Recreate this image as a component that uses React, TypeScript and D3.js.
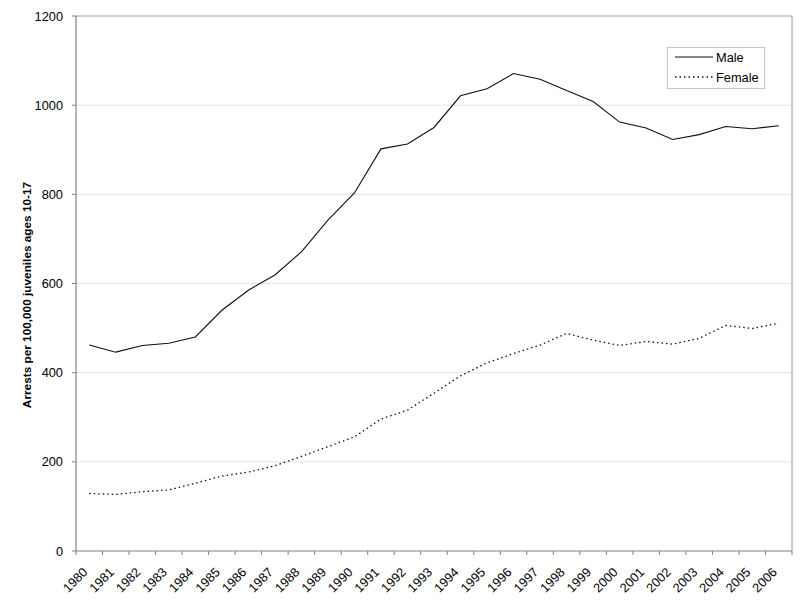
import React from "react";
import * as d3 from "d3";

const years: string[] = [
  "1980","1981","1982","1983","1984","1985","1986","1987","1988","1989",
  "1990","1991","1992","1993","1994","1995","1996","1997","1998","1999",
  "2000","2001","2002","2003","2004","2005","2006",
];
const maleValues: number[] = [
  462, 446, 461, 466, 480, 540, 585, 619, 671, 742,
  803, 902, 913, 950, 1021, 1037, 1071, 1058, 1033, 1008,
  962, 949, 923, 934, 952, 947, 954,
];
const femaleValues: number[] = [
  129, 127, 133, 137, 152, 168, 177, 191, 212, 234,
  256, 296, 316, 354, 393, 422, 443, 462, 488, 473,
  461, 470, 464, 477, 506, 499, 511,
];
const yTicks: number[] = [0, 200, 400, 600, 800, 1000, 1200];
const seriesNames: string[] = ["Male", "Female"];
const yTitle = "Arrests per 100,000 juveniles ages 10-17";

const W = 800;
const H = 610;
const left = 76;
const right = 792;
const top = 16;
const bottom = 551;
const font = "Liberation Sans, Arial, sans-serif";

export default function App() {
  const x = d3.scaleBand<string>().domain(years).range([left, right]).padding(0);
  const y = d3.scaleLinear().domain([0, 1200]).range([bottom, top]);
  const cx = (yr: string) => (x(yr) as number) + x.bandwidth() / 2;

  const line = d3
    .line<number>()
    .x((_, i) => cx(years[i]))
    .y((d) => y(d));

  const tickXs = years.map((yr) => x(yr) as number).concat([right]);

  return (
    <svg
      width={W}
      height={H}
      style={{ position: "absolute", left: 0, top: 0, background: "#fff" }}
      fontFamily={font}
    >
      {/* gridlines */}
      {yTicks.filter((t) => t > 0).map((t) => (
        <line key={"g" + t} x1={left} x2={right} y1={y(t)} y2={y(t)} stroke={t === 1200 ? "#9a9a9a" : "#e4e4e4"} strokeWidth={1} />
      ))}
      {/* right border */}
      <line x1={right} x2={right} y1={top} y2={bottom} stroke="#9a9a9a" strokeWidth={1} />
      {/* y axis */}
      <line x1={left} x2={left} y1={top} y2={bottom} stroke="#808080" strokeWidth={1.2} />
      {yTicks.map((t) => (
        <g key={"yt" + t}>
          <line x1={left - 4} x2={left} y1={y(t)} y2={y(t)} stroke="#808080" />
          <text x={63} y={y(t)} dy="0.36em" textAnchor="end" fontSize={12.8} fill="#000">
            {t}
          </text>
        </g>
      ))}
      {/* x axis */}
      <line x1={left} x2={right} y1={bottom} y2={bottom} stroke="#808080" strokeWidth={1.2} />
      {tickXs.map((tx, i) => (
        <line key={"xt" + i} x1={tx} x2={tx} y1={bottom} y2={bottom + 4} stroke="#808080" />
      ))}
      {years.map((yr) => (
        <text
          key={"xl" + yr}
          transform={`translate(${cx(yr) - 1},${bottom + 22}) rotate(-45)`}
          textAnchor="end"
          fontSize={12.8}
          fill="#000"
        >
          {yr}
        </text>
      ))}
      {/* y title */}
      <text
        transform={`translate(31,295) rotate(-90)`}
        textAnchor="middle"
        fontSize={11.8}
        fontWeight="bold"
        fill="#000"
      >
        {yTitle}
      </text>
      {/* lines */}
      <path d={line(maleValues) || ""} fill="none" stroke="#111" strokeWidth={1.1} />
      <path d={line(femaleValues) || ""} fill="none" stroke="#111" strokeWidth={1.3} strokeDasharray="1.5,3" />
      {/* legend */}
      <rect x={667.5} y={47.5} width={97} height={41} fill="#fff" stroke="#c8c8c8" />
      {seriesNames.map((name, i) => (
        <g key={"lg" + name}>
          <line
            x1={675}
            x2={713}
            y1={57 + i * 20}
            y2={57 + i * 20}
            stroke="#111"
            strokeWidth={i === 0 ? 1.1 : 1.3}
            strokeDasharray={i === 0 ? undefined : "1.5,3"}
          />
          <text x={716} y={57 + i * 20} dy="0.36em" fontSize={12.8} fill="#000">
            {name}
          </text>
        </g>
      ))}
    </svg>
  );
}
